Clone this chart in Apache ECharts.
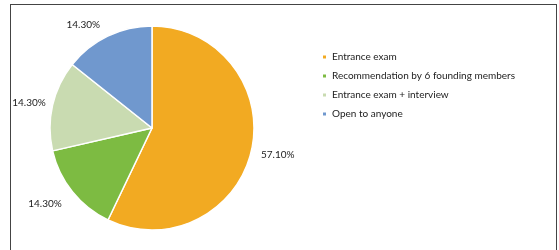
<!DOCTYPE html>
<html>
<head>
<meta charset="utf-8">
<script src="https://cdn.jsdelivr.net/npm/echarts@6/dist/echarts.min.js"></script>
<style>
html,body{margin:0;padding:0;background:#fff;}
#frame{position:absolute;left:10px;top:4px;width:547px;height:270px;border:1.5px solid #444;box-sizing:border-box;}
#chart{position:absolute;left:0;top:0;width:559px;height:250px;}
</style>
</head>
<body>
<div id="frame"></div>
<div id="chart"></div>
<script>
const categories = ["Entrance exam", "Recommendation by 6 founding members", "Entrance exam + interview", "Open to anyone"];
const values = [57.1, 14.3, 14.3, 14.3];
const colors = ["#F2AA22", "#7DBB42", "#C9DBB1", "#7098CE"];
// label leader lengths (layout only, hidden lines)
const lineLen1 = [20, 20, 11, 13];
const lineLen2 = [-10, -5, -4, 2];

const chart = echarts.init(document.getElementById('chart'), null, {renderer: 'canvas'});
chart.setOption({
  animation: false,
  backgroundColor: 'transparent',
  textStyle: {fontFamily: 'Lato'},
  legend: {
    orient: 'vertical',
    left: 321,
    top: 52,
    padding: 0,
    itemWidth: 5,
    itemHeight: 5,
    itemGap: 9,
    icon: 'rect',
    data: categories,
    textStyle: {fontFamily: 'Lato', fontSize: 10, color: '#222'}
  },
  series: [{
    type: 'pie',
    center: [152, 128],
    radius: 102,
    startAngle: 90,
    clockwise: true,
    avoidLabelOverlap: false,
    itemStyle: {borderColor: '#fff', borderWidth: 1.5},
    label: {
      show: true,
      position: 'outside',
      distanceToLabelLine: 0,
      fontFamily: 'Lato',
      fontSize: 10,
      color: '#222',
      formatter: p => p.value.toFixed(2) + '%'
    },
    labelLine: {show: false},
    emphasis: {disabled: true},
    data: categories.map((c, i) => ({
      name: c,
      value: values[i],
      itemStyle: {color: colors[i]},
      labelLine: {show: false, length: lineLen1[i], length2: lineLen2[i]}
    }))
  }]
});
</script>
</body>
</html>
